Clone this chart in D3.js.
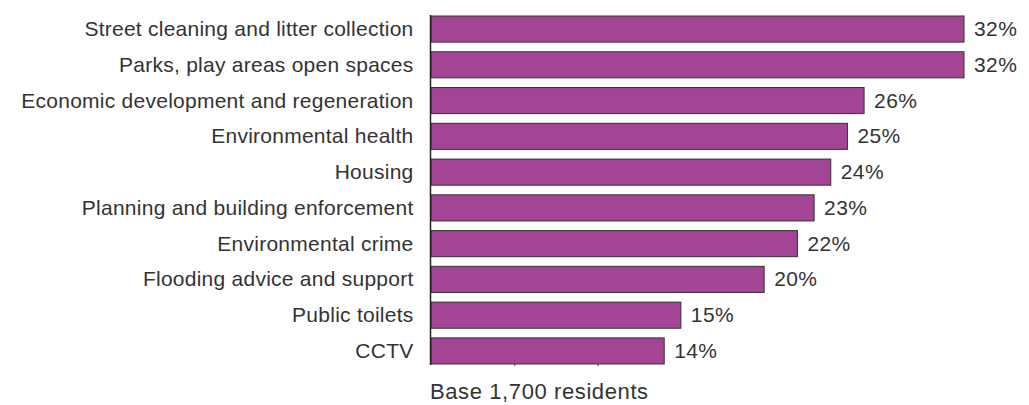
<!DOCTYPE html>
<html>
<head>
<meta charset="utf-8">
<script src="https://cdn.jsdelivr.net/npm/d3@7"></script>
<style>
  html, body { margin: 0; padding: 0; background: #fff; }
  svg { display: block; }
  text { font-family: "Liberation Sans", Arial, Helvetica, sans-serif; fill: #333; }
</style>
</head>
<body>
<svg id="chart" width="1029" height="405"></svg>
<script>
const categories = [
  "Street cleaning and litter collection",
  "Parks, play areas open spaces",
  "Economic development and regeneration",
  "Environmental health",
  "Housing",
  "Planning and building enforcement",
  "Environmental crime",
  "Flooding advice and support",
  "Public toilets",
  "CCTV"
];
const values = [32, 32, 26, 25, 24, 23, 22, 20, 15, 14];
const tickValues = [5, 10];
const footnote = "Base 1,700 residents";

const svg = d3.select("#chart");

const x = d3.scaleLinear().domain([0, 35]).range([431, 1014]);
const y = d3.scaleBand().domain(categories).range([16, 364]).paddingInner(0.27).paddingOuter(0);

// bars
svg.append("g").selectAll("rect")
  .data(categories)
  .join("rect")
  .attr("x", x(0))
  .attr("y", d => y(d))
  .attr("width", (d, i) => x(values[i]) - x(0))
  .attr("height", y.bandwidth())
  .attr("fill", "#a44494")
  .attr("stroke", "#333")
  .attr("stroke-width", 1);

// value labels
svg.append("g").selectAll("text")
  .data(categories)
  .join("text")
  .attr("x", (d, i) => x(values[i]) + 10)
  .attr("y", d => y(d) + y.bandwidth() / 2)
  .attr("dy", "0.33em")
  .attr("font-size", 21)
  .attr("letter-spacing", 0.4)
  .text((d, i) => values[i] + "%");

// category axis
const yAxis = svg.append("g")
  .attr("transform", `translate(${x(0) - 0.5},0)`)
  .call(d3.axisLeft(y).tickSize(0).tickPadding(17));
yAxis.select(".domain").remove();
yAxis.selectAll("text")
  .attr("font-size", 21)
  .attr("letter-spacing", 0.25)
  .attr("dy", "0.33em")
  .attr("fill", "#333")
  .style("font-family", "'Liberation Sans', Arial, Helvetica, sans-serif");
svg.append("line")
  .attr("x1", x(0) - 0.5).attr("x2", x(0) - 0.5)
  .attr("y1", 15).attr("y2", 365)
  .attr("stroke", "#222").attr("stroke-width", 1.5);

// value axis ticks
const xAxis = svg.append("g")
  .attr("transform", "translate(0,364)")
  .call(d3.axisBottom(x).tickValues(tickValues).tickSize(2).tickFormat(""));
xAxis.select(".domain").remove();
xAxis.selectAll("line").attr("stroke", "#333");

svg.append("text")
  .attr("x", x(0) - 1)
  .attr("y", 399)
  .attr("font-size", 22)
  .attr("letter-spacing", 0.6)
  .text(footnote);
</script>
</body>
</html>
